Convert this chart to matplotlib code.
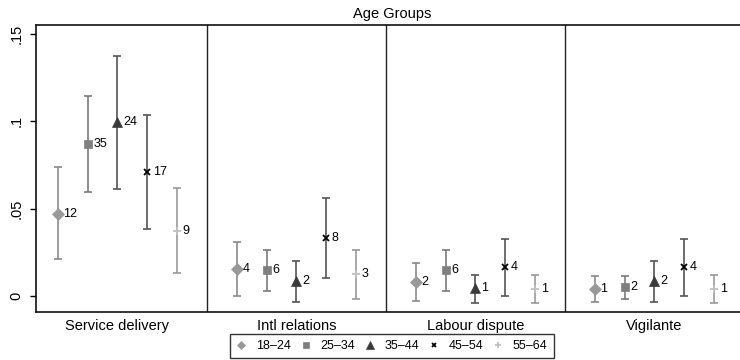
import matplotlib.pyplot as plt
import numpy as np

plt.rcParams['font.family'] = ['Liberation Sans', 'DejaVu Sans']

categories = ['Service delivery', 'Intl relations', 'Labour dispute', 'Vigilante']
groups = ['18–24', '25–34', '35–44', '45–54', '55–64']

# share of events, one row per age group, one column per category
est = [
    [0.0471, 0.0156, 0.0078, 0.0040],
    [0.0868, 0.0149, 0.0149, 0.0050],
    [0.0996, 0.0088, 0.0044, 0.0086],
    [0.0710, 0.0334, 0.0164, 0.0168],
    [0.0374, 0.0124, 0.0042, 0.0042],
]
lo = [
    [0.0210, 0.0002, -0.0030, -0.0036],
    [0.0594, 0.0030, 0.0030, -0.0019],
    [0.0613, -0.0033, -0.0040, -0.0033],
    [0.0382, 0.0105, 0.0002, 0.0002],
    [0.0134, -0.0015, -0.0040, -0.0040],
]
hi = [
    [0.0739, 0.0311, 0.0189, 0.0115],
    [0.1143, 0.0265, 0.0265, 0.0115],
    [0.1372, 0.0199, 0.0122, 0.0199],
    [0.1038, 0.0563, 0.0328, 0.0328],
    [0.0618, 0.0265, 0.0122, 0.0122],
]
counts = [
    [12, 4, 2, 1],
    [35, 6, 6, 2],
    [24, 2, 1, 2],
    [17, 8, 4, 4],
    [9, 3, 1, 1],
]

markers = ['D', 's', '^', 'x', '+']
msizes = [6, 6, 7, 4, 6]
mcolors = ['#999999', '#7f7f7f', '#3a3a3a', '#000000', '#c0c0c0']
ecolors = ['#8a8a8a', '#7a7a7a', '#555555', '#555555', '#999999']

fig = plt.figure(figsize=(7.4, 3.6), dpi=100)
ax = fig.add_axes([36 / 740, 1 - 311.7 / 360, 704 / 740, (311.7 - 25) / 360])

ncat = len(categories)
for g in range(len(groups)):
    xs = np.arange(ncat) * 6 + g + 1
    e = np.array(est[g])
    yerr = [e - np.array(lo[g]), np.array(hi[g]) - e]
    ax.errorbar(xs, e, yerr=yerr, fmt='none', ecolor=ecolors[g],
                elinewidth=1.2, capsize=3, capthick=1.2, zorder=2)
    ax.plot(xs, e, linestyle='none', marker=markers[g], ms=msizes[g],
            color=mcolors[g], mec=mcolors[g], mew=1.3 if g >= 3 else 0.5,
            label=groups[g], zorder=3)
    for x, y, n in zip(xs, e, counts[g]):
        ax.annotate(str(n), (x, y), xytext=(4, 0), textcoords='offset points',
                    va='center', ha='left', fontsize=9)

# panel separators
for b in [6, 12, 18]:
    ax.axvline(b, color='#222222', lw=1.0, zorder=1)

ax.set_xlim(0.27, 23.87)
ax.set_ylim(-0.009, 0.1552)
ax.set_xticks(np.arange(ncat) * 6 + 3)
ax.set_xticklabels(categories, fontsize=10.5)
ax.tick_params(axis='x', length=0, pad=5)
ax.set_yticks([0, 0.05, 0.1, 0.15])
ax.set_yticklabels(['0', '.05', '.1', '.15'], rotation=90, va='center', fontsize=10.5)
ax.tick_params(axis='y', length=4, width=1, pad=5)
ax.spines['right'].set_visible(False)
for s in ['left', 'bottom', 'top']:
    ax.spines[s].set_linewidth(1.2)
    ax.spines[s].set_color('#111111')

fig.text(392 / 740, 1 - 14 / 360, 'Age Groups', ha='center', va='center', fontsize=10.5)

leg = fig.legend(loc='center', bbox_to_anchor=(392 / 740, 1 - 346 / 360), ncol=5,
                 frameon=True, fancybox=False, fontsize=9, handlelength=0.8,
                 handletextpad=0.8, columnspacing=0.75, borderpad=0.5,
                 markerscale=0.75)
leg.get_frame().set_edgecolor('black')
leg.get_frame().set_linewidth(1.0)

fig.savefig('out.png', dpi=100)
